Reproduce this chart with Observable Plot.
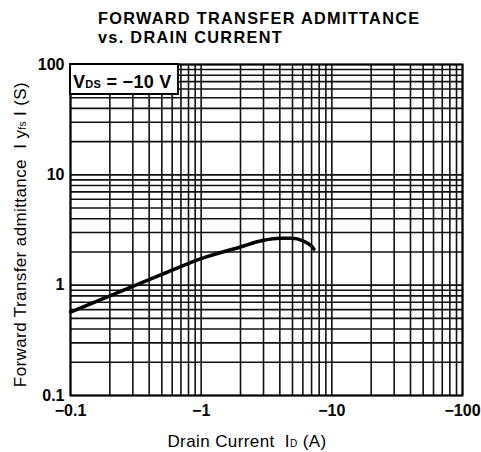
<!DOCTYPE html>
<html><head><meta charset="utf-8">
<script src="https://cdn.jsdelivr.net/npm/d3@7"></script>
<script src="https://cdn.jsdelivr.net/npm/@observablehq/plot@0.6"></script>
<style>
body{margin:0;background:#fff;}
</style></head><body>
<div id="chart"></div>
<script>
// Drain current (A) and forward transfer admittance |yfs| (S)
const drainCurrent = [-0.1, -0.2, -0.5, -1, -2, -3, -4, -5, -6, -7, -7.3];
const admittance   = [0.57, 0.80, 1.25, 1.74, 2.22, 2.55, 2.66, 2.66, 2.52, 2.25, 2.12];
const xTickValues = [0.1, 1, 10, 100];
const xTickLabels = ["−0.1", "−1", "−10", "−100"];
const yTickValues = [0.1, 1, 10, 100];
const yTickLabels = ["0.1", "1", "10", "100"];
const titleLines = ["FORWARD TRANSFER ADMITTANCE", "vs. DRAIN CURRENT"];

(function () {
const data = drainCurrent.map((d, i) => ({id: -d, yfs: admittance[i]}));
const gridX = d3.scaleLog().domain([0.1, 100]).ticks();
const gridY = d3.scaleLog().domain([0.1, 100]).ticks();
const font = "'Liberation Sans', Arial, Helvetica, sans-serif";

const chart = Plot.plot({
  width: 481,
  height: 452,
  marginTop: 64,
  marginBottom: 57,
  marginLeft: 70,
  marginRight: 19,
  style: {fontFamily: font, fontSize: "16px", background: "white", color: "black"},
  x: {type: "log", domain: [0.1, 100]},
  y: {type: "log", domain: [0.1, 100]},
  marks: [
    Plot.ruleX(gridX, {x: d => d, stroke: "#111", strokeWidth: 1.6}),
    Plot.ruleY(gridY, {y: d => d, stroke: "#111", strokeWidth: 1.6}),
    Plot.line(data, {x: "id", y: "yfs", stroke: "black", strokeWidth: 3.5, curve: "monotone-x"}),
    Plot.frame({stroke: "black", strokeWidth: 2}),
    Plot.axisX({ticks: xTickValues, tickFormat: d => xTickLabels[xTickValues.indexOf(d)],
      tickSize: 0, tickPadding: 9, fontWeight: "bold", label: null}),
    Plot.axisY({ticks: yTickValues, tickFormat: d => yTickLabels[yTickValues.indexOf(d)],
      tickSize: 0, tickPadding: 6, fontWeight: "bold", label: null})
  ]
});
document.getElementById("chart").appendChild(chart);

// Annotations: title, axis labels with subscripts, condition box
const svg = d3.select(chart);
const xs = chart.scale("x"), ys = chart.scale("y");
const fLeft = xs.apply(0.1), fTop = ys.apply(100), fBottom = ys.apply(0.1);
const g = svg.append("g").attr("font-family", font).attr("fill", "black").attr("text-anchor", "start");

g.append("text").attr("x", 98).attr("y", 24).attr("font-size", 16.3).attr("font-weight", "bold")
  .attr("text-anchor", "start").attr("letter-spacing", 1.3).text(titleLines[0]);
g.append("text").attr("x", 98).attr("y", 43).attr("font-size", 16.3).attr("font-weight", "bold")
  .attr("text-anchor", "start").attr("letter-spacing", 1.3).text(titleLines[1]);

// condition box
g.append("rect").attr("x", fLeft).attr("y", fTop).attr("width", 108).attr("height", 30)
  .attr("fill", "white").attr("stroke", "black").attr("stroke-width", 2);
const vt = g.append("text").attr("x", fLeft + 3).attr("y", fTop + 24).attr("font-size", 18)
  .attr("font-weight", "bold").attr("text-anchor", "start").attr("letter-spacing", 0.3);
vt.append("tspan").text("V");
vt.append("tspan").attr("font-size", 11).text("DS");
vt.append("tspan").attr("xml:space", "preserve").text(" = −10 V");

// x label
const xl = g.append("text").attr("x", 247).attr("y", 447).attr("text-anchor", "middle")
  .attr("font-size", 17).attr("letter-spacing", 0.4);
xl.append("tspan").text("Drain Current  I");
xl.append("tspan").attr("font-size", 10).text("D");
xl.append("tspan").text(" (A)");

// y label
const yl = g.append("text").attr("transform", `translate(26,${(fTop + fBottom) / 2 + 5}) rotate(-90)`)
  .attr("text-anchor", "middle").attr("font-size", 17).attr("letter-spacing", 0.4).attr("fill", "#000");
yl.append("tspan").text("Forward Transfer admittance  I y");
yl.append("tspan").attr("font-size", 10).text("fs");
yl.append("tspan").text(" I (S)");
})();
</script>
</body></html>
